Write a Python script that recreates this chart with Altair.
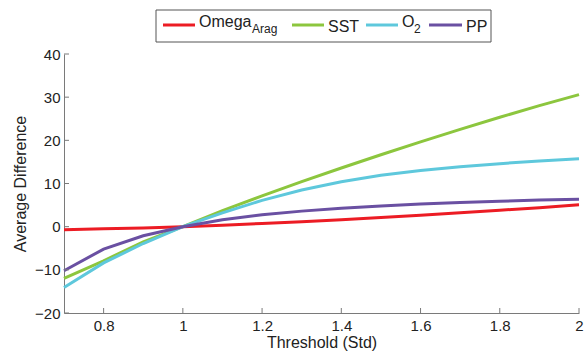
import altair as alt
import pandas as pd

# ---- data ----
threshold = [0.7, 0.8, 0.9, 1.0, 1.1, 1.2, 1.3, 1.4, 1.5, 1.6, 1.7, 1.8, 1.9, 2.0]
omega_arag = [-0.7, -0.5, -0.3, 0.0, 0.35, 0.75, 1.15, 1.6, 2.1, 2.65, 3.2, 3.8, 4.4, 5.05]
sst = [-12.0, -7.9, -3.5, 0.0, 3.7, 7.15, 10.45, 13.6, 16.65, 19.65, 22.55, 25.35, 28.05, 30.6]
o2 = [-14.1, -8.4, -3.9, 0.0, 3.2, 6.1, 8.5, 10.4, 11.9, 13.0, 13.9, 14.6, 15.2, 15.75]
pp = [-10.2, -5.2, -2.1, 0.0, 1.6, 2.75, 3.6, 4.25, 4.8, 5.25, 5.6, 5.9, 6.15, 6.35]

x_ticks = [0.8, 1.0, 1.2, 1.4, 1.6, 1.8, 2.0]
y_ticks = [-20, -10, 0, 10, 20, 30, 40]

series_cols = ["omega_arag", "sst", "o2", "pp"]
colors = ["#ec1c24", "#8cc63e", "#5ec8dc", "#6a50a2"]

df = pd.DataFrame({"threshold": threshold, "omega_arag": omega_arag,
                   "sst": sst, "o2": o2, "pp": pp})
xt = pd.DataFrame({"t": x_ticks})
yt = pd.DataFrame({"t": y_ticks})
one = pd.DataFrame({"k": [0]})

FONT = "Liberation Sans"
TXT = "#222222"
AX = "#7a7a7a"

xs = alt.Scale(domain=[0.7, 2.0], nice=False, zero=False)
ys = alt.Scale(domain=[-20, 40], nice=False, zero=False)

x_axis = alt.Axis(values=x_ticks, format="~g", title="Threshold (Std)", ticks=False,
                  grid=False, labelPadding=5, titlePadding=1, labelFlush=False)
y_axis = alt.Axis(values=y_ticks, title="Average Difference", ticks=False,
                  grid=False, labelPadding=4, titlePadding=6)

layers = []
for col, c in zip(series_cols, colors):
    layers.append(
        alt.Chart(df).mark_line(color=c, strokeWidth=3).encode(
            x=alt.X("threshold:Q", scale=xs, axis=x_axis),
            y=alt.Y(f"{col}:Q", scale=ys, axis=y_axis),
        )
    )

# inward ticks (MATLAB style)
ytick_layer = alt.Chart(yt).mark_rule(color=AX, strokeWidth=1).encode(
    y=alt.Y("t:Q", scale=ys, axis=y_axis), x=alt.value(0), x2=alt.value(5))
xtick_layer = alt.Chart(xt).mark_rule(color=AX, strokeWidth=1).encode(
    x=alt.X("t:Q", scale=xs, axis=x_axis), y=alt.value(259), y2=alt.value(254))

# custom legend with subscripts
box = alt.Chart(one).mark_rect(fill="white", stroke="#555555", strokeWidth=1).encode(
    x=alt.value(92), x2=alt.value(427), y=alt.value(-44), y2=alt.value(-12))

leg = [box]
for (x1, x2), c in zip([(99, 131), (228, 260), (302, 334), (365, 398)], colors):
    leg.append(alt.Chart(one).mark_rule(color=c, strokeWidth=3).encode(
        x=alt.value(x1), x2=alt.value(x2), y=alt.value(-29)))

def txt(s, x, y, size):
    return alt.Chart(one).mark_text(align="left", baseline="alphabetic", font=FONT,
                                    fontSize=size, color=TXT).encode(
        x=alt.value(x), y=alt.value(y), text=alt.value(s))

leg += [txt("Omega", 135, -27, 16), txt("Arag", 188, -21, 12),
        txt("SST", 264, -22, 16), txt("O", 338, -27, 16), txt("2", 350, -21, 12),
        txt("PP", 402, -22, 16)]

chart = alt.layer(*layers, ytick_layer, xtick_layer, *leg).properties(
    width=515, height=259,
    autosize=alt.AutoSizeParams(type="none"),
    padding={"left": 64, "top": 54, "right": 8, "bottom": 39},
).configure_view(strokeWidth=0).configure_axis(
    labelFont=FONT, titleFont=FONT, labelFontSize=15, titleFontSize=16,
    titleFontWeight="normal", labelColor=TXT, titleColor=TXT, domainColor=AX,
)

chart.save("out.html", embed_options={"renderer": "svg", "actions": False})
